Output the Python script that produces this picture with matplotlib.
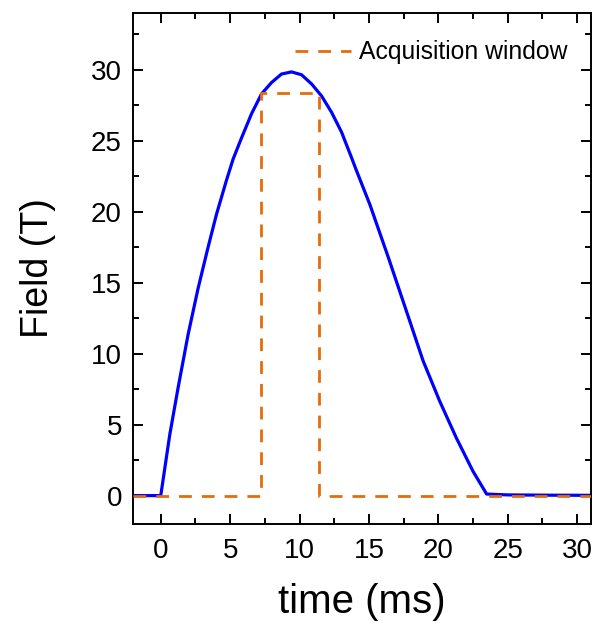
import matplotlib
matplotlib.use("Agg")
import matplotlib.pyplot as plt
from matplotlib.ticker import MultipleLocator

# Field pulse
time_ms = [-2.0, 0.0, 0.65, 1.25, 1.97, 2.69, 3.41, 4.01, 4.73, 5.21, 5.82, 6.54,
           7.26, 7.98, 8.70, 9.42, 10.14, 10.87, 11.59, 12.31, 13.03, 13.75,
           14.1, 15.07, 16.39, 17.7, 18.9, 20.1, 21.3, 22.5, 23.48, 25.0, 28.0, 31.0]
field_T = [0.0, 0.0, 4.3, 7.6, 11.35, 14.6, 17.5, 19.8, 22.2, 23.7, 25.2, 26.9,
           28.3, 29.1, 29.7, 29.85, 29.65, 29.0, 28.15, 27.0, 25.6, 23.8,
           22.9, 20.5, 16.8, 13.0, 9.5, 6.65, 4.06, 1.71, 0.11, 0.05, 0.03, 0.02]

# Acquisition window
window_t = [-2.0, 7.25, 7.25, 11.42, 11.42, 31.0]
window_B = [0.0, 0.0, 28.35, 28.35, 0.0, 0.0]

xticks = [0, 5, 10, 15, 20, 25, 30]
yticks = [0, 5, 10, 15, 20, 25, 30]

plt.rcParams['font.family'] = ['Liberation Sans', 'DejaVu Sans']

fig = plt.figure(figsize=(5.94, 6.23), dpi=100)
ax = fig.add_axes([133/594, 1 - 524/623, (591-133)/594, (524-13)/623])

ax.plot(time_ms, field_T, color='#0000FF', lw=2.3, zorder=2)
ax.plot(window_t, window_B, color='#E46C0A', lw=2.0, dashes=(4.6, 3.6),
        label='Acquisition window', zorder=3)

ax.set_xlim(-2, 31)
ax.set_ylim(-2, 34)
ax.set_xticks(xticks)
ax.set_yticks(yticks)
ax.xaxis.set_minor_locator(MultipleLocator(2.5))
ax.yaxis.set_minor_locator(MultipleLocator(2.5))
ax.tick_params(which='both', direction='in', top=True, right=True, width=1.4)
ax.tick_params(which='major', length=7, labelsize=20)
ax.tick_params(axis='x', which='major', pad=10)
ax.tick_params(axis='y', which='major', pad=8)
ax.tick_params(which='minor', length=4.3)
for s in ax.spines.values():
    s.set_linewidth(1.4)

ax.set_xlabel('time (ms)', fontsize=29, labelpad=14)
ax.set_ylabel('Field (T)', fontsize=27, labelpad=25)

leg = ax.legend(loc='upper right', frameon=False, fontsize=17.8,
                handlelength=2.3, handletextpad=0.3,
                bbox_to_anchor=(0.997, 0.99))

fig.savefig('out.png', dpi=100)
